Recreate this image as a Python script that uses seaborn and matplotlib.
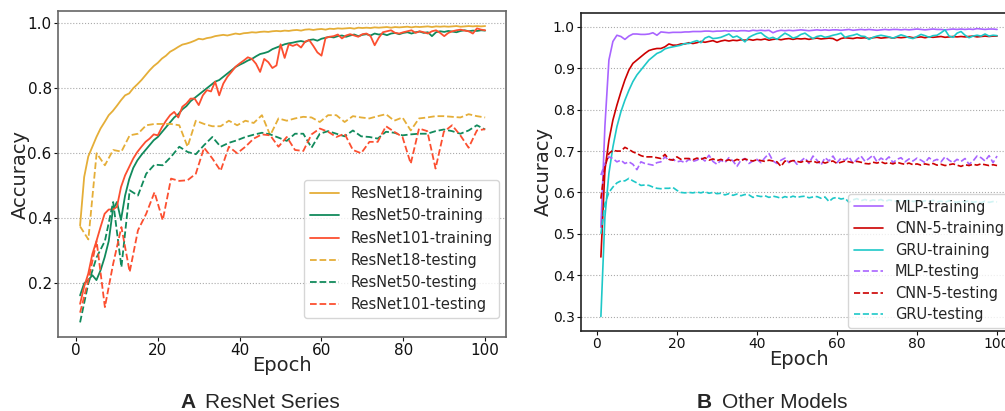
import numpy as np
import seaborn as sns
import matplotlib.pyplot as plt

# epochs
epochs = list(range(1, 101))
test_epochs = np.linspace(1, 100, 50)

# ---- A: ResNet series ----
resnet18_train = [
    0.378, 0.527, 0.59, 0.62, 0.65, 0.676, 0.696, 0.717, 0.73, 0.746,
    0.763, 0.778, 0.784, 0.80, 0.812, 0.825, 0.84, 0.855, 0.868, 0.878,
    0.891, 0.90, 0.912, 0.919, 0.927, 0.934, 0.937, 0.941, 0.946, 0.952,
    0.95, 0.954, 0.956, 0.96, 0.962, 0.964, 0.962, 0.965, 0.968, 0.966,
    0.969, 0.970, 0.972, 0.971, 0.973, 0.974, 0.973, 0.975, 0.976, 0.975,
    0.977, 0.976, 0.978, 0.979, 0.977, 0.980, 0.981, 0.979, 0.981, 0.982,
    0.980, 0.983, 0.982, 0.984, 0.983, 0.984, 0.985, 0.983, 0.986, 0.985,
    0.986, 0.985, 0.987, 0.986, 0.987, 0.988, 0.986, 0.988, 0.987, 0.988,
    0.989, 0.987, 0.989, 0.988, 0.989, 0.990, 0.988, 0.990, 0.989, 0.990,
    0.989, 0.990, 0.991, 0.989, 0.990, 0.991, 0.990, 0.991, 0.990, 0.991]
resnet50_train = [
    0.163, 0.20, 0.21, 0.225, 0.21, 0.24, 0.28, 0.33, 0.425, 0.45,
    0.395, 0.47, 0.52, 0.555, 0.578, 0.595, 0.61, 0.625, 0.64, 0.65,
    0.665, 0.68, 0.695, 0.71, 0.72, 0.735, 0.745, 0.76, 0.77, 0.78,
    0.79, 0.80, 0.81, 0.82, 0.825, 0.835, 0.845, 0.855, 0.865, 0.872,
    0.878, 0.885, 0.89, 0.898, 0.905, 0.908, 0.912, 0.92, 0.925, 0.93,
    0.935, 0.938, 0.94, 0.943, 0.945, 0.942, 0.948, 0.95, 0.946, 0.952,
    0.955, 0.958, 0.956, 0.96, 0.962, 0.958, 0.962, 0.965, 0.96, 0.964,
    0.966, 0.962, 0.968, 0.965, 0.967, 0.963, 0.968, 0.97, 0.966, 0.97,
    0.972, 0.968, 0.972, 0.974, 0.97, 0.972, 0.96, 0.972, 0.975, 0.973,
    0.976, 0.974, 0.972, 0.976, 0.978, 0.975, 0.977, 0.976, 0.978, 0.977]
resnet101_train = [
    0.137, 0.19, 0.23, 0.29, 0.33, 0.373, 0.414, 0.427, 0.427, 0.435,
    0.496, 0.532, 0.558, 0.584, 0.604, 0.62, 0.635, 0.645, 0.658, 0.655,
    0.68, 0.70, 0.717, 0.727, 0.71, 0.743, 0.753, 0.768, 0.768, 0.748,
    0.778, 0.794, 0.79, 0.82, 0.778, 0.814, 0.835, 0.85, 0.866, 0.876,
    0.885, 0.895, 0.89, 0.875, 0.85, 0.89, 0.88, 0.862, 0.87, 0.935,
    0.893, 0.935, 0.93, 0.935, 0.925, 0.943, 0.948, 0.93, 0.91, 0.90,
    0.955, 0.958, 0.96, 0.965, 0.953, 0.962, 0.966, 0.962, 0.958, 0.966,
    0.968, 0.96, 0.932, 0.955, 0.972, 0.975, 0.978, 0.97, 0.968, 0.972,
    0.975, 0.978, 0.97, 0.975, 0.972, 0.968, 0.975, 0.978, 0.97, 0.96,
    0.97, 0.975, 0.978, 0.98, 0.977, 0.975, 0.968, 0.984, 0.98, 0.978]
resnet18_test = [
    0.375, 0.335, 0.60, 0.563, 0.61, 0.605, 0.655, 0.66, 0.686, 0.69,
    0.69, 0.69, 0.686, 0.62, 0.70, 0.69, 0.683, 0.683, 0.70, 0.686,
    0.70, 0.693, 0.717, 0.655, 0.707, 0.70, 0.707, 0.712, 0.71, 0.696,
    0.717, 0.717, 0.696, 0.714, 0.71, 0.707, 0.714, 0.72, 0.70, 0.71,
    0.67, 0.707, 0.71, 0.714, 0.714, 0.712, 0.71, 0.72, 0.714, 0.71]
resnet50_test = [
    0.08, 0.20, 0.28, 0.33, 0.45, 0.25, 0.486, 0.47, 0.537, 0.565,
    0.563, 0.589, 0.62, 0.604, 0.597, 0.625, 0.65, 0.62, 0.632, 0.64,
    0.65, 0.657, 0.663, 0.658, 0.648, 0.638, 0.66, 0.66, 0.617, 0.66,
    0.668, 0.66, 0.652, 0.67, 0.652, 0.65, 0.645, 0.666, 0.663, 0.655,
    0.658, 0.66, 0.66, 0.668, 0.673, 0.668, 0.66, 0.67, 0.686, 0.673]
resnet101_test = [
    0.11, 0.21, 0.33, 0.127, 0.26, 0.373, 0.235, 0.363, 0.414, 0.48,
    0.394, 0.522, 0.515, 0.517, 0.537, 0.617, 0.584, 0.546, 0.62, 0.60,
    0.62, 0.645, 0.658, 0.655, 0.62, 0.65, 0.61, 0.607, 0.658, 0.676,
    0.666, 0.65, 0.66, 0.61, 0.60, 0.635, 0.635, 0.683, 0.666, 0.65,
    0.568, 0.676, 0.668, 0.553, 0.666, 0.686, 0.655, 0.617, 0.67, 0.674]

# ---- B: other models ----
mlp_train = [
    0.516, 0.76, 0.92, 0.965, 0.98, 0.977, 0.97, 0.978, 0.983, 0.983,
    0.982, 0.982, 0.983, 0.986, 0.98, 0.988, 0.987, 0.986, 0.987, 0.987,
    0.987, 0.988, 0.988, 0.989, 0.989, 0.989, 0.99, 0.99, 0.989, 0.99,
    0.99, 0.991, 0.99, 0.991, 0.99, 0.991, 0.991, 0.99, 0.992, 0.991,
    0.992, 0.991, 0.992, 0.986, 0.99, 0.992, 0.991, 0.992, 0.991, 0.992,
    0.993, 0.992, 0.991, 0.992, 0.993, 0.992, 0.993, 0.992, 0.993, 0.993,
    0.992, 0.993, 0.994, 0.992, 0.993, 0.994, 0.993, 0.994, 0.993, 0.992,
    0.993, 0.994, 0.993, 0.994, 0.994, 0.993, 0.994, 0.993, 0.994, 0.995,
    0.994, 0.993, 0.994, 0.995, 0.994, 0.994, 0.993, 0.994, 0.995, 0.994,
    0.995, 0.994, 0.995, 0.994, 0.996, 0.995, 0.994, 0.995, 0.995, 0.994]
cnn5_train = [
    0.444, 0.654, 0.726, 0.775, 0.811, 0.843, 0.872, 0.896, 0.912, 0.92,
    0.928, 0.936, 0.943, 0.946, 0.948, 0.948, 0.952, 0.959, 0.956, 0.956,
    0.959, 0.959, 0.962, 0.96, 0.962, 0.965, 0.963, 0.965, 0.967, 0.963,
    0.966, 0.968, 0.966, 0.968, 0.967, 0.969, 0.968, 0.97, 0.968, 0.97,
    0.969, 0.971, 0.968, 0.97, 0.971, 0.969, 0.971, 0.972, 0.97, 0.972,
    0.971, 0.972, 0.97, 0.972, 0.973, 0.971, 0.972, 0.973, 0.972, 0.967,
    0.972, 0.974, 0.973, 0.972, 0.974, 0.973, 0.974, 0.972, 0.974, 0.975,
    0.973, 0.974, 0.975, 0.973, 0.975, 0.974, 0.975, 0.976, 0.974, 0.975,
    0.976, 0.974, 0.976, 0.975, 0.976, 0.977, 0.975, 0.976, 0.977, 0.976,
    0.977, 0.976, 0.977, 0.978, 0.976, 0.977, 0.978, 0.977, 0.978, 0.978]
gru_train = [
    0.30, 0.54, 0.646, 0.71, 0.759, 0.795, 0.823, 0.847, 0.868, 0.884,
    0.896, 0.908, 0.92, 0.928, 0.936, 0.94, 0.947, 0.95, 0.952, 0.954,
    0.956, 0.96, 0.96, 0.964, 0.967, 0.962, 0.973, 0.977, 0.972, 0.973,
    0.975, 0.979, 0.983, 0.975, 0.978, 0.972, 0.964, 0.975, 0.98, 0.984,
    0.986, 0.978, 0.972, 0.975, 0.97, 0.978, 0.985, 0.98, 0.973, 0.976,
    0.982, 0.985, 0.978, 0.972, 0.977, 0.979, 0.975, 0.977, 0.98, 0.982,
    0.985, 0.975, 0.978, 0.98, 0.983, 0.978, 0.977, 0.97, 0.975, 0.978,
    0.98, 0.978, 0.976, 0.973, 0.977, 0.981, 0.978, 0.974, 0.972, 0.977,
    0.982, 0.979, 0.975, 0.979, 0.98, 0.986, 0.993, 0.978, 0.975, 0.985,
    0.989, 0.98, 0.974, 0.978, 0.98, 0.978, 0.983, 0.978, 0.98, 0.979]
mlp_test = [
    0.642, 0.67, 0.686, 0.682, 0.674, 0.678, 0.67, 0.674, 0.668, 0.655,
    0.674, 0.67, 0.668, 0.666, 0.672, 0.674, 0.686, 0.678, 0.68, 0.674,
    0.676, 0.672, 0.68, 0.675, 0.678, 0.684, 0.676, 0.69, 0.675, 0.668,
    0.678, 0.672, 0.684, 0.676, 0.663, 0.678, 0.682, 0.67, 0.676, 0.68,
    0.672, 0.684, 0.694, 0.676, 0.67, 0.678, 0.683, 0.672, 0.68, 0.668,
    0.676, 0.684, 0.67, 0.688, 0.678, 0.666, 0.684, 0.676, 0.688, 0.672,
    0.683, 0.678, 0.686, 0.67, 0.68, 0.688, 0.675, 0.682, 0.69, 0.674,
    0.683, 0.677, 0.686, 0.672, 0.68, 0.684, 0.674, 0.681, 0.676, 0.683,
    0.678, 0.672, 0.684, 0.676, 0.68, 0.674, 0.686, 0.678, 0.672, 0.68,
    0.675, 0.682, 0.668, 0.676, 0.688, 0.684, 0.676, 0.689, 0.672, 0.688]
cnn5_test = [
    0.585, 0.662, 0.694, 0.702, 0.70, 0.70, 0.709, 0.704, 0.698, 0.694,
    0.689, 0.686, 0.686, 0.686, 0.684, 0.682, 0.692, 0.68, 0.678, 0.686,
    0.68, 0.682, 0.682, 0.679, 0.683, 0.68, 0.684, 0.678, 0.681, 0.677,
    0.68, 0.676, 0.679, 0.675, 0.68, 0.677, 0.681, 0.678, 0.676, 0.679,
    0.677, 0.675, 0.678, 0.676, 0.674, 0.663, 0.676, 0.674, 0.677, 0.675,
    0.673, 0.677, 0.674, 0.676, 0.672, 0.675, 0.671, 0.674, 0.676, 0.67,
    0.673, 0.676, 0.674, 0.672, 0.675, 0.673, 0.67, 0.669, 0.673, 0.671,
    0.674, 0.67, 0.672, 0.669, 0.673, 0.67, 0.668, 0.671, 0.667, 0.669,
    0.666, 0.669, 0.667, 0.67, 0.666, 0.668, 0.665, 0.667, 0.669, 0.666,
    0.663, 0.667, 0.665, 0.668, 0.666, 0.669, 0.667, 0.665, 0.667, 0.665]
gru_test = [
    0.50, 0.573, 0.60, 0.613, 0.623, 0.628, 0.628, 0.634, 0.628, 0.623,
    0.617, 0.618, 0.617, 0.613, 0.61, 0.609, 0.61, 0.61, 0.612, 0.605,
    0.60, 0.599, 0.60, 0.599, 0.601, 0.599, 0.602, 0.598, 0.60, 0.597,
    0.598, 0.594, 0.597, 0.593, 0.596, 0.592, 0.595, 0.594, 0.588, 0.592,
    0.59, 0.592, 0.588, 0.591, 0.589, 0.586, 0.59, 0.587, 0.591, 0.588,
    0.59, 0.591, 0.587, 0.589, 0.59, 0.586, 0.589, 0.578, 0.586, 0.588,
    0.584, 0.586, 0.576, 0.582, 0.585, 0.58, 0.583, 0.579, 0.582, 0.58,
    0.583, 0.578, 0.582, 0.58, 0.578, 0.581, 0.579, 0.582, 0.578, 0.58,
    0.577, 0.58, 0.578, 0.581, 0.577, 0.579, 0.576, 0.58, 0.578, 0.576,
    0.579, 0.577, 0.58, 0.576, 0.578, 0.575, 0.579, 0.576, 0.578, 0.577]

# 색상
c18, c50, c101 = '#e5ae38', '#118a5c', '#fc4f30'
c_mlp, c_cnn, c_gru = '#a964ff', '#cc0000', '#1ec8c8'

sns.set_style('white')
plt.rcParams['font.family'] = ['DejaVu Sans']

fig = plt.figure(figsize=(10.05, 4.11), dpi=100)
ax1 = fig.add_axes([0.0577, 0.180, 0.4458, 0.793])
ax2 = fig.add_axes([0.578, 0.1946, 0.434, 0.774])

# 왼쪽 패널
left_series = [
    (epochs, resnet18_train, c18, '-', 'ResNet18-training'),
    (epochs, resnet50_train, c50, '-', 'ResNet50-training'),
    (epochs, resnet101_train, c101, '-', 'ResNet101-training'),
    (test_epochs, resnet18_test, c18, '--', 'ResNet18-testing'),
    (test_epochs, resnet50_test, c50, '--', 'ResNet50-testing'),
    (test_epochs, resnet101_test, c101, '--', 'ResNet101-testing'),
]
for x, y, c, ls, lab in left_series:
    sns.lineplot(x=x, y=y, ax=ax1, color=c, linestyle=ls, linewidth=1.3,
                 label=lab, errorbar=None)

# 오른쪽 패널
right_series = [
    (mlp_train, c_mlp, '-', 'MLP-training'),
    (cnn5_train, c_cnn, '-', 'CNN-5-training'),
    (gru_train, c_gru, '-', 'GRU-training'),
    (mlp_test, c_mlp, '--', 'MLP-testing'),
    (cnn5_test, c_cnn, '--', 'CNN-5-testing'),
    (gru_test, c_gru, '--', 'GRU-testing'),
]
for y, c, ls, lab in right_series:
    sns.lineplot(x=epochs, y=y, ax=ax2, color=c, linestyle=ls, linewidth=1.2,
                 label=lab, errorbar=None)

ax1.set_xlim(-4.4, 105.1)
ax1.set_ylim(0.035, 1.037)
ax1.set_yticks([0.2, 0.4, 0.6, 0.8, 1.0])
ax2.set_xlim(-4, 105)
ax2.set_ylim(0.265, 1.034)
ax2.set_yticks([0.3, 0.4, 0.5, 0.6, 0.7, 0.8, 0.9, 1.0])

for ax, sz, spc in [(ax1, 11, '#666666'), (ax2, 10, '#222222')]:
    ax.set_xticks([0, 20, 40, 60, 80, 100])
    ax.yaxis.grid(True, linestyle=':', color='#aaaaaa', linewidth=0.8)
    ax.xaxis.grid(False)
    ax.tick_params(labelsize=sz, length=3, pad=1.5, bottom=True, left=True,
                   colors='#111111')
    for s in ax.spines.values():
        s.set_color(spc)
        s.set_linewidth(1.2)
    ax.set_xlabel('Epoch', fontsize=14, va='center')
    ax.set_ylabel('Accuracy', fontsize=14, va='center')

ax1.xaxis.set_label_coords(0.5, -0.086)
ax1.yaxis.set_label_coords(-0.085, 0.5)
ax2.xaxis.set_label_coords(0.5, -0.088)
ax2.yaxis.set_label_coords(-0.087, 0.5)

ax1.legend(loc='lower right', bbox_to_anchor=(1, 0.035), fontsize=10.5,
           labelspacing=0.5, handlelength=2.0, frameon=True)
ax2.legend(loc='lower right', bbox_to_anchor=(1, -0.014), fontsize=10.5,
           labelspacing=0.45, handlelength=2.0, frameon=True)

# 패널 제목
cap = dict(fontsize=15, family='Liberation Sans', va='baseline')
fig.text(180 / 1005, 0.008, 'A', fontweight='bold', **cap)
fig.text(205 / 1005, 0.008, 'ResNet Series', **cap)
fig.text(697 / 1005, 0.008, 'B', fontweight='bold', **cap)
fig.text(722 / 1005, 0.008, 'Other Models', **cap)

fig.savefig('out.png', dpi=100)
